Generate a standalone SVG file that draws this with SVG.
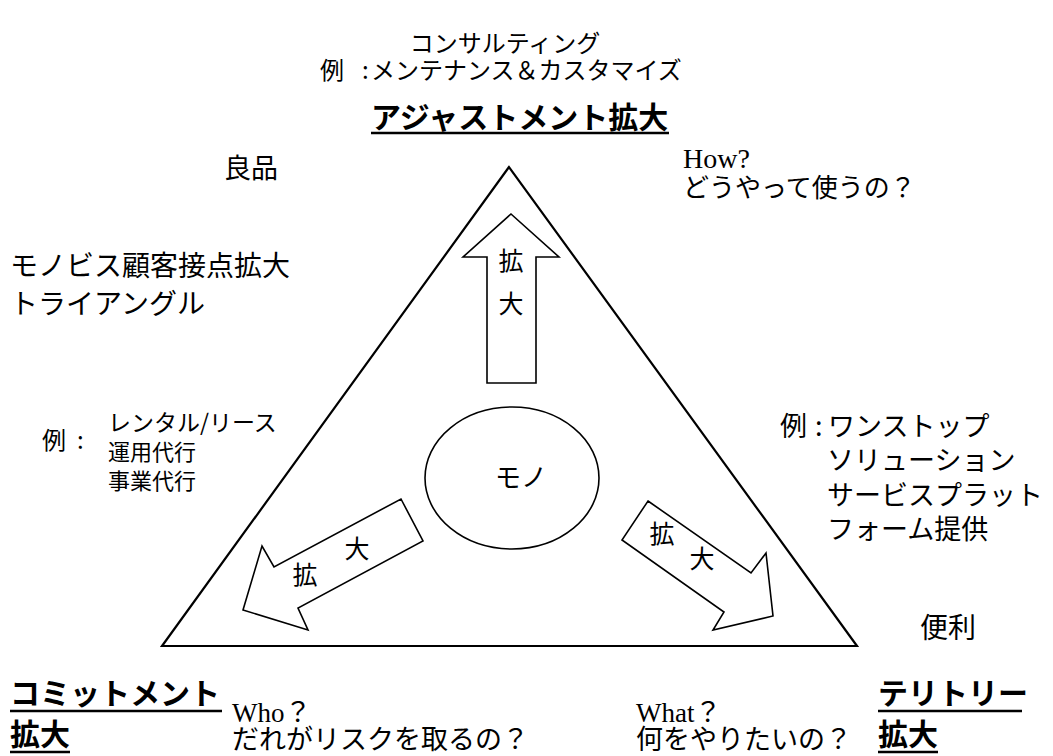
<svg xmlns="http://www.w3.org/2000/svg" width="1053" height="756" viewBox="0 0 1053 756">
<style>
.t{font-family:"Noto Sans CJK JP","Noto Sans",sans-serif;fill:#000}
.s{font-family:"Liberation Serif","Noto Sans CJK JP",serif;fill:#000}
.b{font-weight:bold}
.shape{fill:#fff;stroke:#000;stroke-width:1.6}
.ul{stroke:#000;stroke-width:2.5}
</style>
<rect width="1053" height="756" fill="#fff"/>
<g id="triangle"><polygon points="509,167 162,646 857,646" fill="none" stroke="#000" stroke-width="2.2"/></g>
<g id="connectors">
<polygon class="shape" points="511,214 559,257 536,257 536,383 487,383 487,257 463,257"/>
<polygon class="shape" points="401,499 423,541 298,608 308,630 243,610 262,546 274,567"/>
<polygon class="shape" points="648,501 751,573 766,553 773,616 713,630 724,612 622,540"/>
<text class="t" x="511" y="270" font-size="25" text-anchor="middle">拡</text>
<text class="t" x="511" y="313" font-size="25" text-anchor="middle">大</text>
<text class="t" x="305" y="584" font-size="25" text-anchor="middle">拡</text>
<text class="t" x="357" y="558" font-size="25" text-anchor="middle">大</text>
<text class="t" x="662" y="543" font-size="25" text-anchor="middle">拡</text>
<text class="t" x="702" y="568" font-size="25" text-anchor="middle">大</text>
</g>
<g id="mono">
<ellipse cx="512" cy="478" rx="87" ry="71" fill="#fff" stroke="#000" stroke-width="1.6"/>
<text class="t" x="521" y="487" font-size="26" text-anchor="middle">モノ</text>
</g>
<g id="consulting">
<text class="t" x="505" y="52" font-size="24" text-anchor="middle">コンサルティング</text>
<text class="t" x="320" y="79" font-size="24">例</text>
<text class="t" x="362" y="79" font-size="24">:</text>
<text class="t" x="371" y="79" font-size="24">メンテナンス＆カスタマイズ</text>
</g>
<g id="adjustment">
<text class="t b" x="371" y="128" font-size="30">アジャストメント拡大</text>
<line class="ul" x1="371" y1="133" x2="669" y2="133"/>
</g>
<g id="ryohin"><text class="t" x="224" y="178" font-size="27">良品</text></g>
<g id="title">
<text class="t" x="10" y="276" font-size="28">モノビス顧客接点拡大</text>
<text class="t" x="10" y="314" font-size="28">トライアングル</text>
</g>
<g id="how">
<text class="s" x="683" y="168" font-size="28">How?</text>
<text class="t" x="683" y="197" font-size="26">どうやって使うの？</text>
</g>
<g id="left-examples">
<text class="t" x="42" y="449" font-size="24">例</text>
<text class="t" x="77" y="449" font-size="24">:</text>
<text class="t" x="108" y="431" font-size="23">レンタル/リース</text>
<text class="t" x="108" y="460" font-size="22">運用代行</text>
<text class="t" x="108" y="489" font-size="22">事業代行</text>
</g>
<g id="right-examples">
<text class="t" x="780" y="436" font-size="27">例</text>
<text class="t" x="815" y="436" font-size="27">:</text>
<text class="t" x="828" y="436" font-size="27">ワンストップ</text>
<text class="t" x="827" y="470" font-size="27">ソリューション</text>
<text class="t" x="827" y="505" font-size="27">サービスプラット</text>
<text class="t" x="827" y="539" font-size="27">フォーム提供</text>
</g>
<g id="benri"><text class="t" x="920" y="638" font-size="28">便利</text></g>
<g id="commitment">
<text class="t b" x="10" y="704" font-size="30">コミットメント</text>
<line class="ul" x1="10" y1="711" x2="222" y2="711"/>
<text class="t b" x="10" y="745" font-size="30">拡大</text>
<line class="ul" x1="10" y1="752" x2="70" y2="752"/>
</g>
<g id="who">
<text class="s" x="232" y="722" font-size="27">Who？</text>
<text class="t" x="232" y="749" font-size="27">だれがリスクを取るの？</text>
</g>
<g id="what">
<text class="s" x="636" y="722" font-size="27">What？</text>
<text class="t" x="636" y="749" font-size="27">何をやりたいの？</text>
</g>
<g id="territory">
<text class="t b" x="878" y="704" font-size="30">テリトリー</text>
<line class="ul" x1="878" y1="711" x2="1022" y2="711"/>
<text class="t b" x="878" y="745" font-size="30">拡大</text>
<line class="ul" x1="878" y1="752" x2="938" y2="752"/>
</g>
</svg>
